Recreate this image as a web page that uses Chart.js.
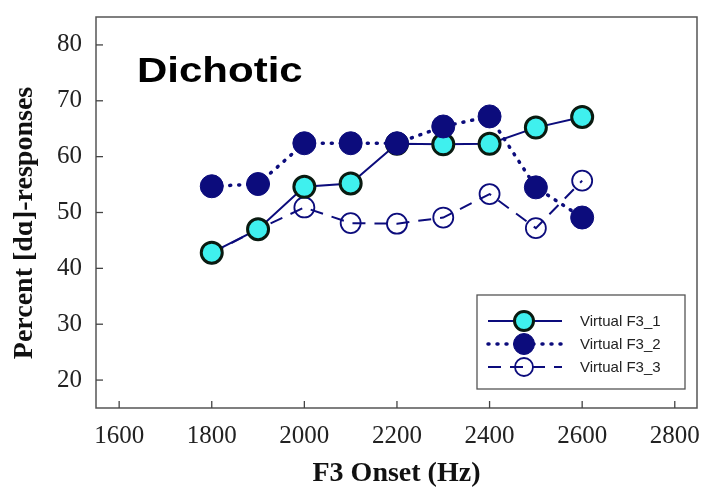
<!DOCTYPE html>
<html><head><meta charset="utf-8">
<script src="https://cdn.jsdelivr.net/npm/chart.js@4"></script>
<style>html,body{margin:0;padding:0;background:#fff}#wrap{width:702px;height:491px}</style>
</head><body><div id="wrap"><canvas id="c" width="702" height="491"></canvas></div>
<script>
const onsets = [1800, 1900, 2000, 2100, 2200, 2300, 2400, 2500, 2600];
const virtualF3_1 = [42.8, 47.0, 54.6, 55.2, 62.3, 62.2, 62.3, 65.2, 67.1];
const virtualF3_2 = [54.7, 55.1, 62.4, 62.4, 62.4, 65.4, 67.2, 54.5, 49.1];
const virtualF3_3 = [42.7, 47.0, 50.9, 48.1, 48.0, 49.1, 53.3, 47.2, 55.7];
const seriesNames = ['Virtual F3_1', 'Virtual F3_2', 'Virtual F3_3'];
const xTicks = [1600, 1800, 2000, 2200, 2400, 2600, 2800];
const yTicks = [20, 30, 40, 50, 60, 70, 80];
const panelTitle = 'Dichotic';

const NAVY = '#0c0c7c';
const SERIF = '"Liberation Serif", "Times New Roman", serif';
const pts = arr => onsets.map((x, i) => ({x, y: arr[i]}));

const frame = {
  id: 'frame',
  afterDraw(chart) {
    const {ctx, chartArea: a, scales} = chart;
    ctx.save();
    ctx.strokeStyle = '#555';
    ctx.lineWidth = 1.5;
    ctx.strokeRect(a.left, a.top, a.right - a.left, a.bottom - a.top);
    ctx.strokeStyle = '#444';
    ctx.lineWidth = 1.3;
    xTicks.forEach(v => {
      const x = scales.x.getPixelForValue(v);
      ctx.beginPath(); ctx.moveTo(x, a.bottom); ctx.lineTo(x, a.bottom - 7); ctx.stroke();
    });
    yTicks.forEach(v => {
      const y = scales.y.getPixelForValue(v);
      ctx.beginPath(); ctx.moveTo(a.left, y); ctx.lineTo(a.left + 7, y); ctx.stroke();
    });
    ctx.save();
    ctx.translate(137, 82);
    ctx.scale(1.2, 1);
    ctx.fillStyle = '#000';
    ctx.font = 'bold 35px "Liberation Sans", Arial, sans-serif';
    ctx.textBaseline = 'alphabetic';
    ctx.fillText(panelTitle, 0, 0);
    ctx.restore();
    const bx = 477, by = 295, bw = 208, bh = 94;
    ctx.fillStyle = '#fff';
    ctx.fillRect(bx, by, bw, bh);
    ctx.strokeStyle = '#555';
    ctx.lineWidth = 1.3;
    ctx.strokeRect(bx, by, bw, bh);
    const rows = [321, 344, 367];
    chart.data.datasets.forEach((ds, i) => {
      const y = rows[i];
      ctx.save();
      ctx.strokeStyle = ds.borderColor;
      ctx.lineWidth = ds.borderWidth;
      ctx.lineCap = ds.borderCapStyle || 'butt';
      ctx.setLineDash(ds.borderDash || []);
      ctx.beginPath(); ctx.moveTo(488, y); ctx.lineTo(562, y); ctx.stroke();
      ctx.setLineDash([]);
      ctx.beginPath();
      ctx.arc(524, y, ds.pointRadius - 1, 0, Math.PI * 2);
      ctx.fillStyle = ds.pointBackgroundColor;
      ctx.fill();
      ctx.lineWidth = ds.pointBorderWidth;
      ctx.strokeStyle = ds.pointBorderColor;
      ctx.stroke();
      ctx.restore();
      ctx.fillStyle = '#222';
      ctx.font = '15px "Liberation Sans", Arial, sans-serif';
      ctx.textBaseline = 'middle';
      ctx.fillText(ds.label, 580, y + 1);
    });
    ctx.restore();
  }
};

new Chart(document.getElementById('c'), {
  type: 'line',
  data: {
    datasets: [
      {
        label: seriesNames[0], data: pts(virtualF3_1), order: 2,
        borderColor: NAVY, borderWidth: 2, borderDash: [],
        pointRadius: 10.5, pointBackgroundColor: '#3ff0ee', pointBorderColor: '#0a1a10', pointBorderWidth: 3
      },
      {
        label: seriesNames[1], data: pts(virtualF3_2), order: 1,
        borderColor: NAVY, borderWidth: 3.5, borderDash: [1, 8], borderCapStyle: 'round',
        pointRadius: 11.5, pointBackgroundColor: NAVY, pointBorderColor: NAVY, pointBorderWidth: 1
      },
      {
        label: seriesNames[2], data: pts(virtualF3_3), order: 3,
        borderColor: NAVY, borderWidth: 2, borderDash: [13, 9],
        pointRadius: 10, pointBackgroundColor: 'rgba(255,255,255,0)', pointBorderColor: NAVY, pointBorderWidth: 1.8
      }
    ]
  },
  options: {
    responsive: false, animation: false,
    layout: {autoPadding: false, padding: {top: 17, right: 5, left: 0, bottom: 0}},
    plugins: {legend: {display: false}, tooltip: {enabled: false}},
    scales: {
      x: {
        type: 'linear', min: 1550, max: 2848,
        afterFit: s => { s.height = 83; s.paddingLeft = 0; s.paddingRight = 0; },
        afterBuildTicks: s => { s.ticks = xTicks.map(v => ({value: v})); },
        grid: {display: false, drawTicks: false},
        border: {display: false},
        ticks: {padding: 13, color: '#222', font: {family: SERIF, size: 25}, callback: v => String(v)},
        title: {display: true, text: 'F3 Onset (Hz)', color: '#111', padding: {top: 0, bottom: 0},
          font: {family: SERIF, size: 28, weight: 'bold'}}
      },
      y: {
        type: 'linear', min: 15, max: 85,
        afterFit: s => { s.width = 96; s.paddingTop = 0; s.paddingBottom = 0; },
        afterBuildTicks: s => { s.ticks = yTicks.map(v => ({value: v})); },
        grid: {display: false, drawTicks: false},
        border: {display: false},
        ticks: {padding: 14, color: '#222', font: {family: SERIF, size: 25}, callback: v => String(v)},
        title: {display: true, text: 'Percent [dɑ]-responses   ', color: '#111', padding: {top: 8, bottom: 0},
          font: {family: SERIF, size: 28, weight: 'bold'}}
      }
    }
  },
  plugins: [frame]
});
</script></body></html>
